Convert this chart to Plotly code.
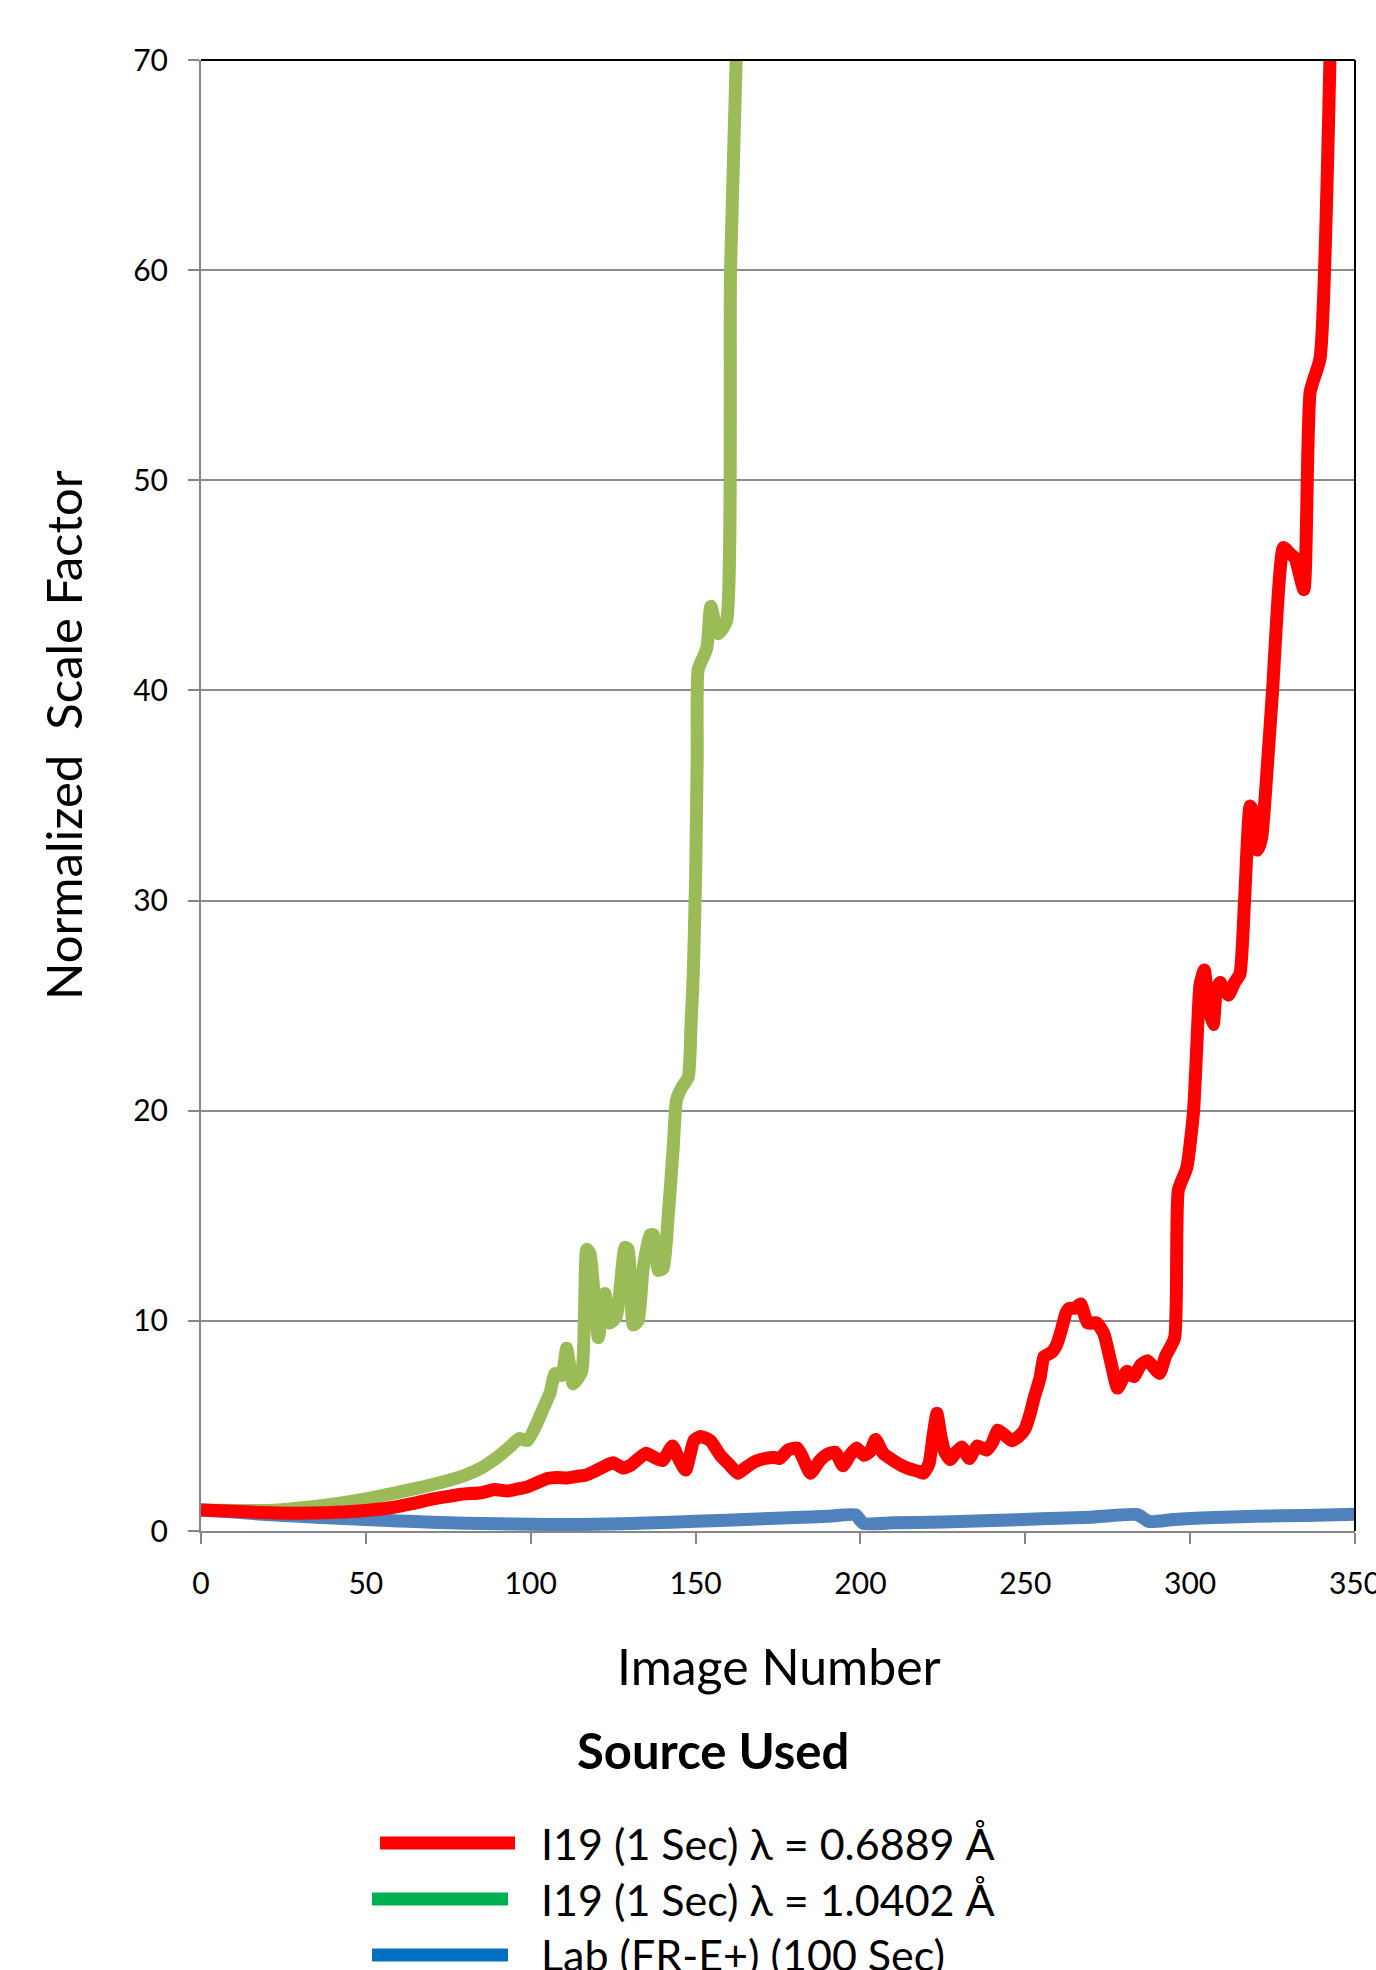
import plotly.graph_objects as go

# ---- data -------------------------------------------------------------
red_x = [0, 8, 18, 28, 38, 48, 58, 64, 69, 74, 79, 85, 89, 93, 96, 99, 102, 105, 108, 111,
         114, 116.5, 119.5, 122, 125, 128, 130, 132, 135, 137.5, 140, 143, 145, 147, 149.5,
         151.5, 154.5, 157.5, 160, 162.8, 165.5, 168, 171, 174, 175.5, 178, 180.8, 182.5,
         184.8, 187.7, 190, 192.4, 194.7, 196.8, 198.8, 201.1, 203, 204.6, 206.9, 210, 212.7,
         215, 217.4, 219.1, 220.8, 222, 223.2, 224.3, 225.5, 227.2, 229, 230.7, 233, 235.4,
         238.3, 240, 241.7, 243.5, 245.8, 248, 249.9, 251.5, 252.8, 254.5, 255.7, 258, 259.6,
         261, 262.4, 263.5, 265, 266.8, 268.9, 271.7, 273.8, 276, 278, 280.8, 282.9, 285,
         287.1, 290.7, 292.5, 295.3, 296.4, 299, 301, 302, 303, 304.3, 305.5, 307, 308, 309.1,
         310, 311.6, 313.5, 315.1, 316.5, 318.2, 319.2, 320.5, 321.7, 322.7, 325, 328.3,
         330.3, 331.8, 334.5, 336.4, 339.4, 342.4]
red_y = [1.0, 0.95, 0.88, 0.85, 0.87, 0.95, 1.12, 1.3, 1.48, 1.62, 1.75, 1.82, 1.97, 1.9,
         2.0, 2.1, 2.3, 2.5, 2.55, 2.52, 2.6, 2.65, 2.85, 3.05, 3.25, 3.0, 3.1, 3.35, 3.7,
         3.5, 3.35, 4.05, 3.4, 2.9, 4.3, 4.5, 4.3, 3.6, 3.2, 2.75, 3.05, 3.3, 3.45, 3.5, 3.45,
         3.85, 3.95, 3.5, 2.75, 3.35, 3.65, 3.75, 3.1, 3.6, 3.95, 3.6, 3.8, 4.35, 3.7, 3.35,
         3.1, 2.95, 2.85, 2.75, 3.2, 4.5, 5.6, 4.6, 3.8, 3.4, 3.75, 4.0, 3.45, 4.05, 3.85, 4.2,
         4.8, 4.6, 4.3, 4.5, 4.85, 5.6, 6.4, 7.3, 8.3, 8.5, 8.9, 9.6, 10.4, 10.6, 10.6, 10.8,
         9.9, 9.9, 9.4, 8.0, 6.8, 7.6, 7.35, 7.9, 8.1, 7.5, 8.3, 9.2, 16.2, 17.3, 19.9, 23.0,
         26.0, 26.7, 25.0, 24.1, 25.8, 26.1, 25.8, 25.5, 26.1, 26.5, 30.0, 34.5, 34.2, 32.4,
         33.0, 34.8, 40.0, 46.8, 46.5, 46.3, 44.8, 54.2, 55.8, 70.0]

green_x = [0, 10, 20, 30, 40, 50, 60, 70, 80, 85, 88, 91, 94, 96.5, 99, 101.8, 104, 105.9,
           107.4, 109.4, 110.9, 112.9, 115.5, 117, 118, 120.5, 122.5, 124, 126, 128.6, 129.6,
           131.1, 132.6, 134.1, 136.2, 137.2, 138.7, 140.2, 141.7, 143.2, 144.2, 145.8, 147.8,
           148.6, 149.3, 150.0, 150.5, 150.8, 153.4, 154.6, 156.9, 159.4, 160.6, 162.3]
green_y = [1.0, 0.98, 0.98, 1.1, 1.28, 1.53, 1.85, 2.2, 2.65, 3.0, 3.3, 3.65, 4.05, 4.4, 4.3,
           5.1, 5.9, 6.6, 7.5, 7.4, 8.7, 7.0, 7.6, 13.4, 13.2, 9.2, 11.3, 9.9, 10.2, 13.5, 13.4,
           9.8, 10.0, 12.5, 14.1, 14.1, 12.4, 12.5, 15.0, 18.2, 20.5, 21.1, 21.6, 24.0, 26.5,
           31.0, 37.0, 41.0, 42.0, 44.0, 42.7, 43.3, 60.0, 70.0]

blue_x = [0, 10, 20, 30, 40, 50, 60, 70, 80, 90, 100, 110, 120, 135, 150, 165, 180, 190,
          198.5, 200.8, 210, 225, 240, 255, 270, 284, 287.5, 295, 305, 320, 335, 350]
blue_y = [1.0, 0.9, 0.78, 0.7, 0.62, 0.55, 0.48, 0.42, 0.37, 0.34, 0.32, 0.31, 0.32, 0.38,
          0.46, 0.55, 0.64, 0.7, 0.77, 0.37, 0.39, 0.43, 0.5, 0.58, 0.66, 0.78, 0.45, 0.55,
          0.63, 0.7, 0.74, 0.8]

series_names = ["I19 (1 Sec) λ = 0.6889 Å",
                "I19 (1 Sec) λ = 1.0402 Å",
                "Lab (FR-E+) (100 Sec)"]
line_colors = ["#FF0000", "#9BBB59", "#4F81BD"]
key_colors = ["#FF0000", "#00B050", "#0070C0"]

x_ticks = [0, 50, 100, 150, 200, 250, 300, 350]
y_ticks = [0, 10, 20, 30, 40, 50, 60, 70]

# ---- figure geometry (pixels) ------------------------------------------
W, H = 1376, 1970
ML, MR, MT, MB = 201, 21, 60, 439
PW, PH = W - ML - MR, H - MT - MB


def px(xp):
    return (xp - ML) / PW


def py(yp):
    return (H - MB - yp) / PH


FONT = "Lato, 'Open Sans', sans-serif"

fig = go.Figure()
for xs, ys, name, col in [(blue_x, blue_y, series_names[2], line_colors[2]),
                          (green_x, green_y, series_names[1], line_colors[1]),
                          (red_x, red_y, series_names[0], line_colors[0])]:
    fig.add_trace(go.Scatter(
        x=xs, y=ys, mode="lines", name=name, showlegend=False,
        line=dict(color=col, width=13, shape="spline", smoothing=0.5),
        hoverinfo="skip"))

axis_grey = "#868686"
fig.update_xaxes(range=[0, 350], tickvals=x_ticks, ticks="outside", ticklen=11,
                 tickwidth=2, tickcolor=axis_grey, showline=True, linecolor=axis_grey,
                 linewidth=2, showgrid=False, zeroline=False,
                 tickfont=dict(family=FONT, size=30, color="black"),
                 ticklabelstandoff=14, ticklabeloverflow="allow")
fig.update_yaxes(range=[0, 70], tickvals=y_ticks, ticks="outside", ticklen=11,
                 tickwidth=2, tickcolor=axis_grey, showline=True, linecolor=axis_grey,
                 linewidth=2, showgrid=True, gridcolor="#8c8c8c", gridwidth=2,
                 zeroline=False, tickfont=dict(family=FONT, size=30, color="black"),
                 ticklabelstandoff=14, ticklabeloverflow="allow")

shapes = [
    # black frame on top and right
    dict(type="line", xref="paper", yref="paper", x0=0, x1=1, y0=1, y1=1,
         line=dict(color="black", width=2)),
    dict(type="line", xref="paper", yref="paper", x0=1, x1=1, y0=0, y1=1,
         line=dict(color="black", width=2)),
]

annotations = [
    dict(text="Image Number", xref="paper", yref="paper", x=px(779), y=py(1666),
         showarrow=False, xanchor="center", yanchor="middle",
         font=dict(family=FONT, size=50, color="black")),
    dict(text="Normalized\u00a0 Scale Factor", xref="paper", yref="paper",
         x=px(63), y=py(735), textangle=-90, showarrow=False,
         xanchor="center", yanchor="middle",
         font=dict(family=FONT, size=49, color="black")),
    dict(text="<b>Source Used</b>", xref="paper", yref="paper", x=px(713), y=py(1750),
         showarrow=False, xanchor="center", yanchor="middle",
         font=dict(family=FONT, size=49, color="black")),
]

# key rows: (swatch left, swatch right, row centre)
rows = [(380, 515, 1843), (372, 508, 1899), (372, 508, 1955)]
for (x0, x1, yc), name, col in zip(rows, series_names, key_colors):
    shapes.append(dict(type="line", xref="paper", yref="paper",
                       x0=px(x0), x1=px(x1), y0=py(yc), y1=py(yc),
                       line=dict(color=col, width=13)))
    annotations.append(dict(text=name, xref="paper", yref="paper", x=px(539), y=py(yc),
                            showarrow=False, xanchor="left", yanchor="middle",
                            font=dict(family=FONT, size=43, color="black")))

fig.update_layout(width=W, height=H, margin=dict(l=ML, r=MR, t=MT, b=MB, autoexpand=False),
                  paper_bgcolor="white", plot_bgcolor="white",
                  shapes=shapes, annotations=annotations, showlegend=False)

fig.write_html("out.html")
